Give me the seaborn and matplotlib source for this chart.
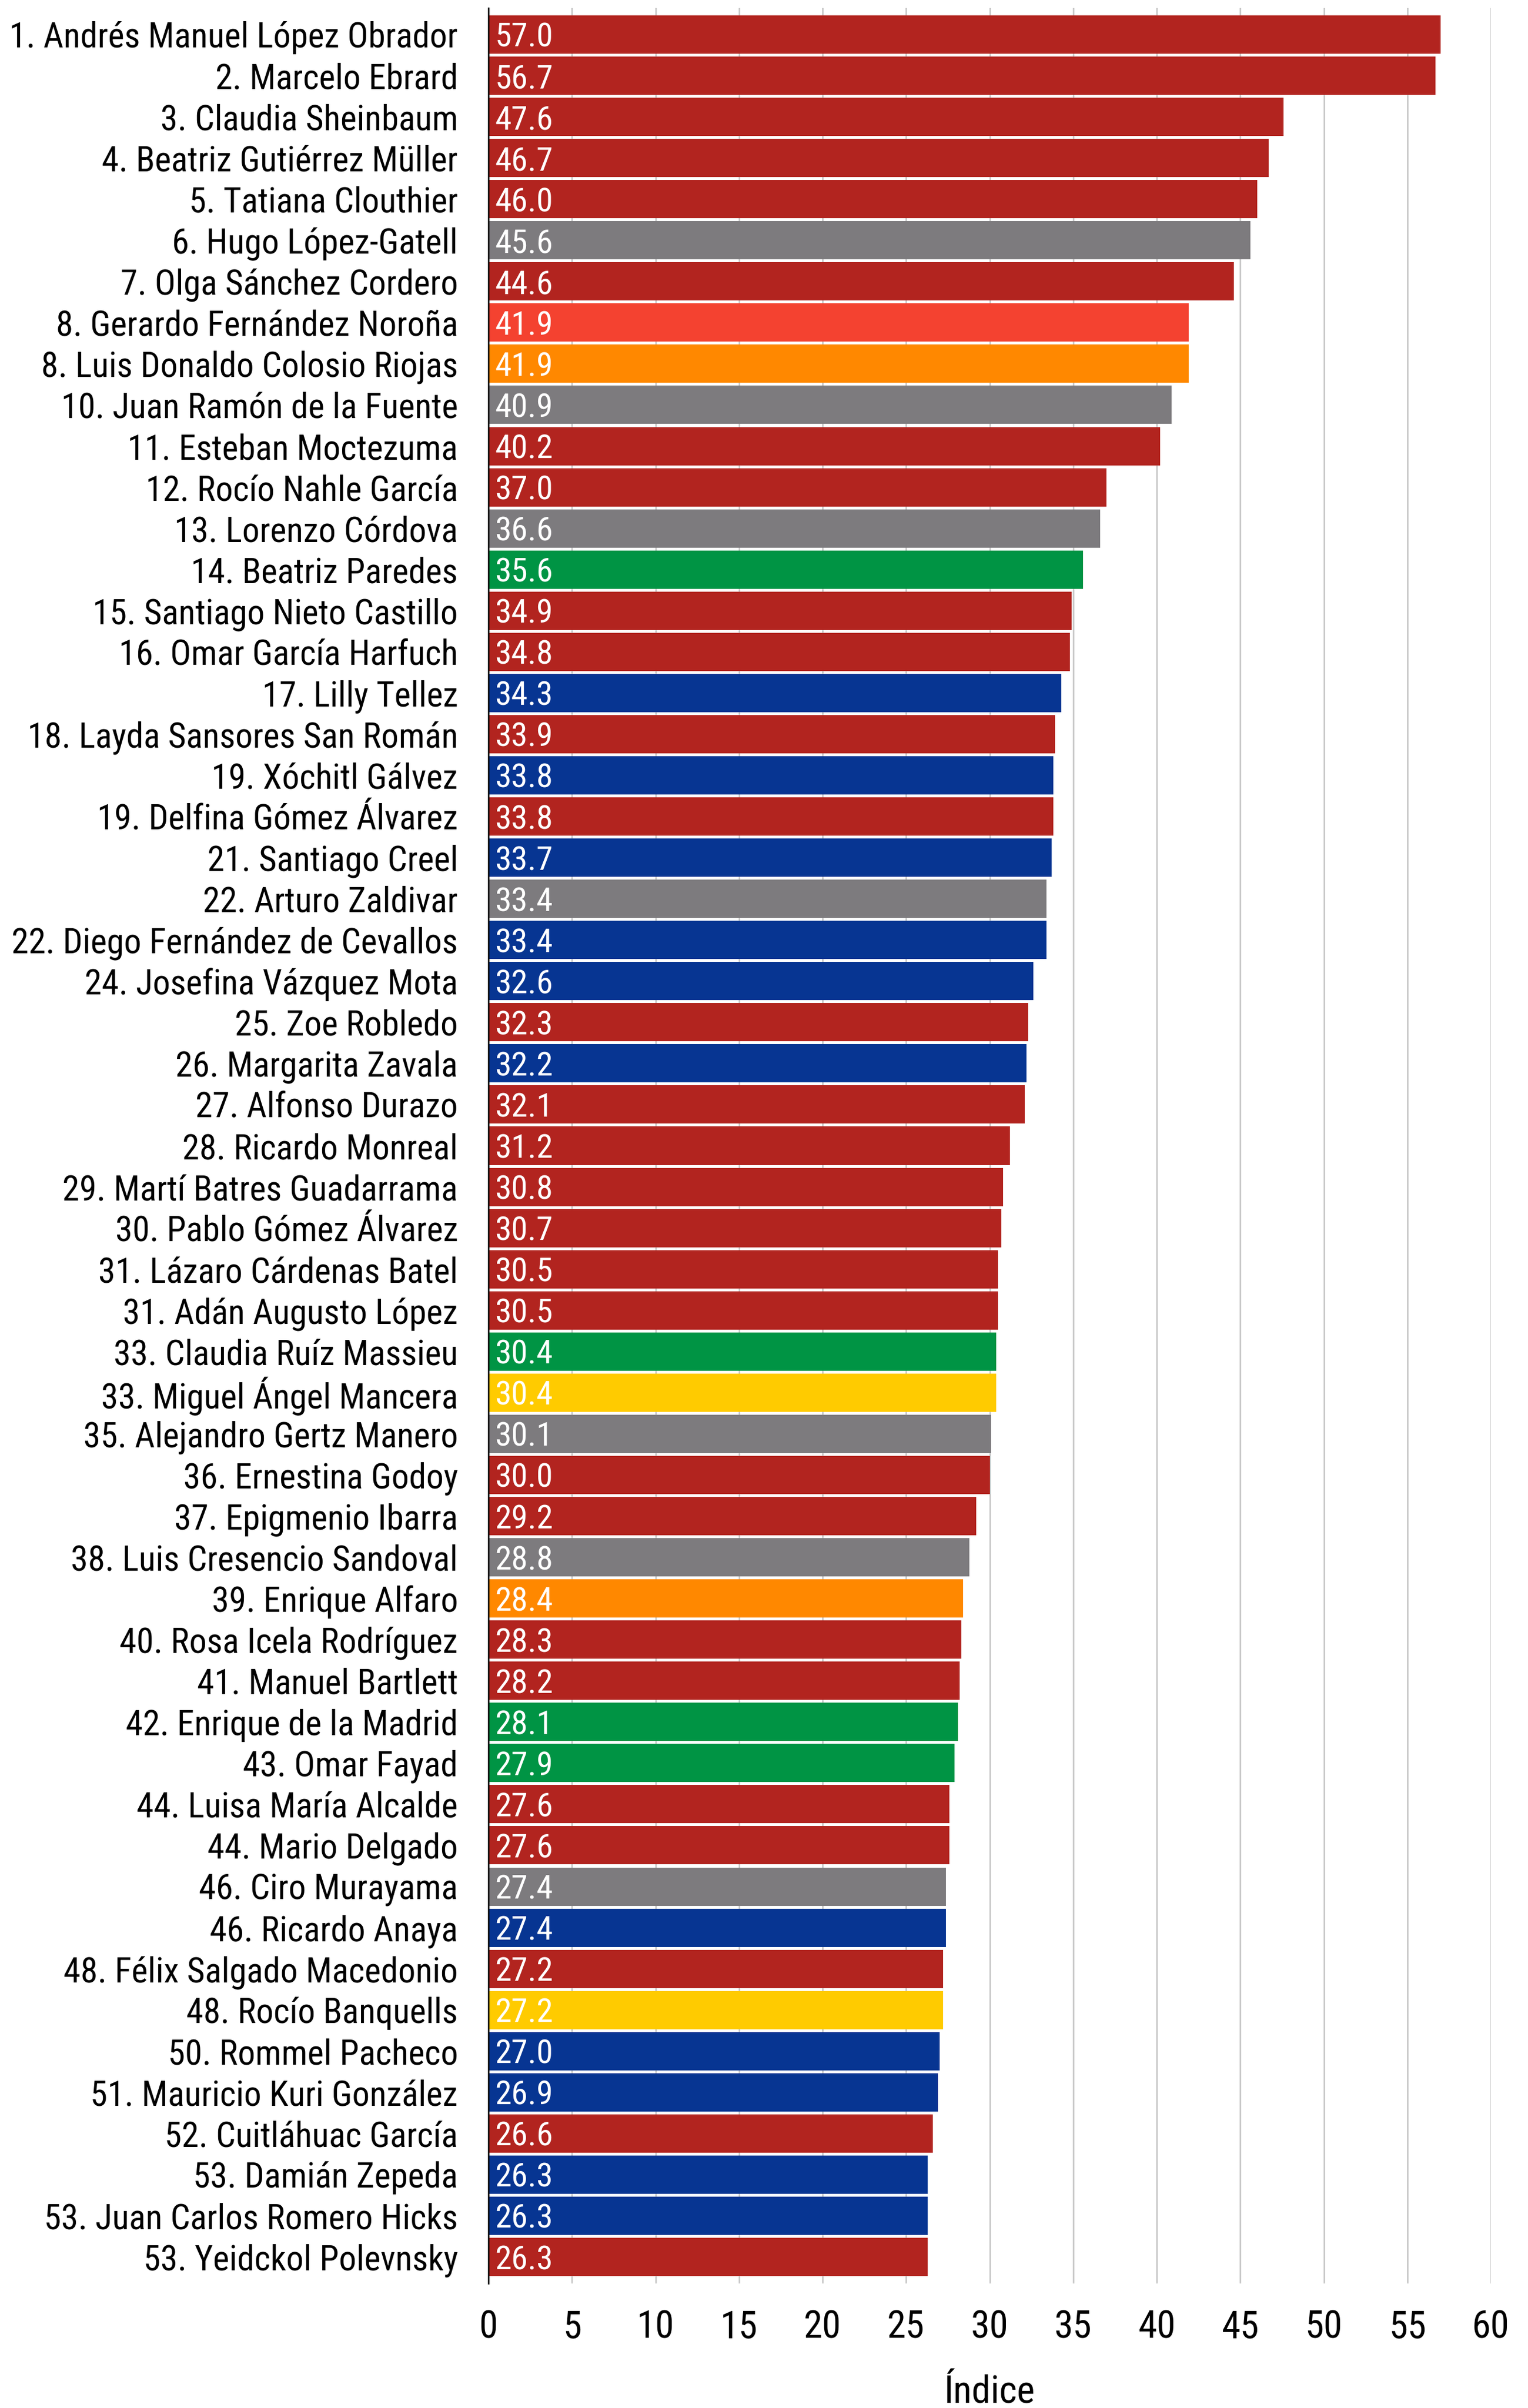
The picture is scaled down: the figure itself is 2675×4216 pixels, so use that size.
import matplotlib
matplotlib.use("Agg")
import matplotlib.pyplot as plt
from matplotlib import font_manager
import seaborn as sns
import pandas as pd

# ---- data -----------------------------------------------------------------
names = [
    "1. Andrés Manuel López Obrador", "2. Marcelo Ebrard", "3. Claudia Sheinbaum",
    "4. Beatriz Gutiérrez Müller", "5. Tatiana Clouthier", "6. Hugo López-Gatell",
    "7. Olga Sánchez Cordero", "8. Gerardo Fernández Noroña", "8. Luis Donaldo Colosio Riojas",
    "10. Juan Ramón de la Fuente", "11. Esteban Moctezuma", "12. Rocío Nahle García",
    "13. Lorenzo Córdova", "14. Beatriz Paredes", "15. Santiago Nieto Castillo",
    "16. Omar García Harfuch", "17. Lilly Tellez", "18. Layda Sansores San Román",
    "19. Xóchitl Gálvez", "19. Delfina Gómez Álvarez", "21. Santiago Creel",
    "22. Arturo Zaldivar", "22. Diego Fernández de Cevallos", "24. Josefina Vázquez Mota",
    "25. Zoe Robledo", "26. Margarita Zavala", "27. Alfonso Durazo",
    "28. Ricardo Monreal", "29. Martí Batres Guadarrama", "30. Pablo Gómez Álvarez",
    "31. Lázaro Cárdenas Batel", "31. Adán Augusto López", "33. Claudia Ruíz Massieu",
    "33. Miguel Ángel Mancera", "35. Alejandro Gertz Manero", "36. Ernestina Godoy",
    "37. Epigmenio Ibarra", "38. Luis Cresencio Sandoval", "39. Enrique Alfaro",
    "40. Rosa Icela Rodríguez", "41. Manuel Bartlett", "42. Enrique de la Madrid",
    "43. Omar Fayad", "44. Luisa María Alcalde", "44. Mario Delgado",
    "46. Ciro Murayama", "46. Ricardo Anaya", "48. Félix Salgado Macedonio",
    "48. Rocío Banquells", "50. Rommel Pacheco", "51. Mauricio Kuri González",
    "52. Cuitláhuac García", "53. Damián Zepeda", "53. Juan Carlos Romero Hicks",
    "53. Yeidckol Polevnsky",
]

indice = [
    57.0, 56.7, 47.6, 46.7, 46.0, 45.6, 44.6, 41.9, 41.9, 40.9,
    40.2, 37.0, 36.6, 35.6, 34.9, 34.8, 34.3, 33.9, 33.8, 33.8,
    33.7, 33.4, 33.4, 32.6, 32.3, 32.2, 32.1, 31.2, 30.8, 30.7,
    30.5, 30.5, 30.4, 30.4, 30.1, 30.0, 29.2, 28.8, 28.4, 28.3,
    28.2, 28.1, 27.9, 27.6, 27.6, 27.4, 27.4, 27.2, 27.2, 27.0,
    26.9, 26.6, 26.3, 26.3, 26.3,
]

# colour group of each bar
grupo = [
    "guinda", "guinda", "guinda", "guinda", "guinda", "gris", "guinda", "rojo", "naranja", "gris",
    "guinda", "guinda", "gris", "verde", "guinda", "guinda", "azul", "guinda", "azul", "guinda",
    "azul", "gris", "azul", "azul", "guinda", "azul", "guinda", "guinda", "guinda", "guinda",
    "guinda", "guinda", "verde", "amarillo", "gris", "guinda", "guinda", "gris", "naranja", "guinda",
    "guinda", "verde", "verde", "guinda", "guinda", "gris", "azul", "guinda", "amarillo", "azul",
    "azul", "guinda", "azul", "azul", "guinda",
]

colores = {
    "guinda": "#B2241F",
    "gris": "#7D7B7E",
    "rojo": "#F44230",
    "naranja": "#FF8800",
    "verde": "#009444",
    "azul": "#073592",
    "amarillo": "#FFCB00",
}

x_ticks = [0, 5, 10, 15, 20, 25, 30, 35, 40, 45, 50, 55, 60]
x_label = "Índice"

# ---- style ----------------------------------------------------------------
sns.set_theme(style="white")
available = {f.name for f in font_manager.fontManager.ttflist}
family = next((f for f in ["Roboto Condensed", "Liberation Sans Narrow", "Roboto"]
               if f in available), "DejaVu Sans")
plt.rcParams["font.family"] = [family, "DejaVu Sans"]

df = pd.DataFrame({"nombre": names, "indice": indice, "grupo": grupo})
palette = {n: colores[g] for n, g in zip(names, grupo)}

fig = plt.figure(figsize=(2675 / 300, 4216 / 300), dpi=300)
ax = fig.add_axes([855 / 2675, 1 - 3998 / 4216, (2610 - 855) / 2675, (3998 - 14) / 4216])

sns.barplot(data=df, x="indice", y="nombre", hue="nombre", palette=palette,
            order=names, hue_order=names, legend=False, width=0.93,
            saturation=1, linewidth=0, ax=ax, zorder=2)

# value labels at the start of each bar
for cont in ax.containers:
    for bar in cont:
        val = bar.get_width()
        ax.annotate(f"{val:.1f}", xy=(0, bar.get_y() + bar.get_height() / 2),
                    xytext=(2.8, 0), textcoords="offset points",
                    ha="left", va="center_baseline", color="white", fontsize=14, zorder=3)

ax.set_xlim(0, 60)
ax.set_ylim(len(names) - 1 + 0.645, -0.645)
ax.set_xticks(x_ticks)
ax.set_xticklabels([str(t) for t in x_ticks])
ax.xaxis.grid(True, color="#C4C4C4", linewidth=0.6, zorder=0)
ax.yaxis.grid(False)
ax.set_axisbelow(True)

for side in ["top", "right", "bottom"]:
    ax.spines[side].set_visible(False)
ax.spines["left"].set_color("black")
ax.spines["left"].set_linewidth(0.6)
ax.spines["left"].set_zorder(4)

ax.tick_params(axis="x", length=0, pad=11, labelsize=16, colors="black")
ax.tick_params(axis="y", length=0, pad=12.8, labelsize=14.6, colors="black")
ax.set_ylabel("")
ax.set_xlabel(x_label, fontsize=16, color="black", labelpad=12)

fig.savefig("out.png", dpi=300, facecolor="white")
